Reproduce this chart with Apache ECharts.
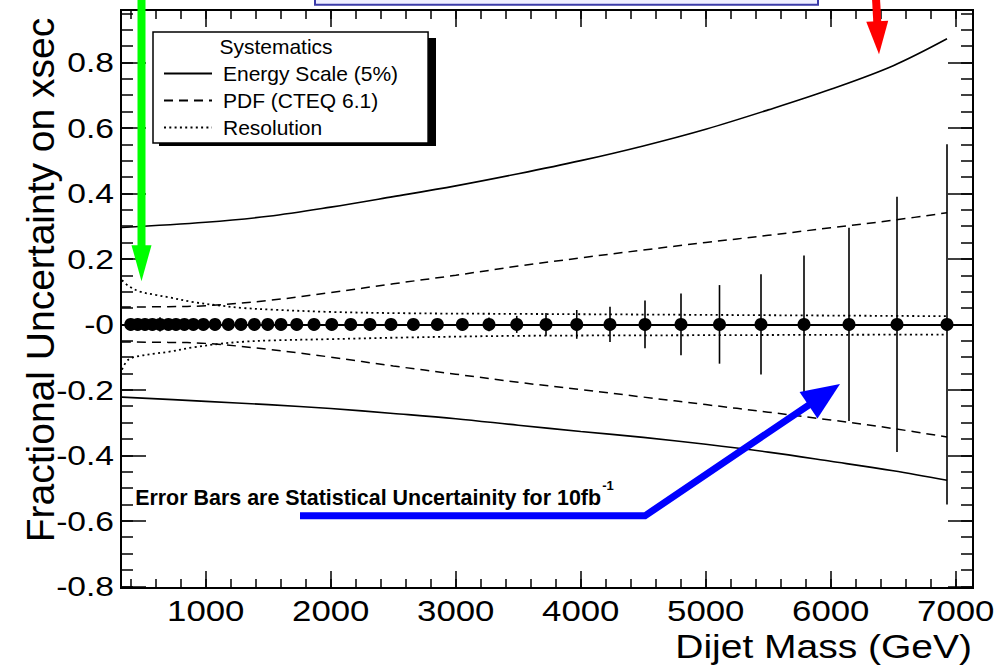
<!DOCTYPE html>
<html><head><meta charset="utf-8">
<script src="https://cdn.jsdelivr.net/npm/echarts@6/dist/echarts.min.js"></script>
<style>html,body{margin:0;padding:0;background:#fff}#c{width:1000px;height:665px}</style>
</head><body><div id="c"></div>
<script>
// ---------------- data ----------------
const xTickLabels = [1000, 2000, 3000, 4000, 5000, 6000, 7000];
const xMinorTicks = [400, 600, 800, 1000, 1200, 1400, 1600, 1800, 2000, 2200, 2400, 2600, 2800, 3000, 3200, 3400, 3600, 3800, 4000, 4200, 4400, 4600, 4800, 5000, 5200, 5400, 5600, 5800, 6000, 6200, 6400, 6600, 6800, 7000];
const yTickValues = [0.8, 0.6, 0.4, 0.2, 0, -0.2, -0.4, -0.6, -0.8];
const yTickLabels = ['0.8', '0.6', '0.4', '0.2', '-0', '-0.2', '-0.4', '-0.6', '-0.8'];
const yMinorTicks = [-0.8, -0.75, -0.7, -0.65, -0.6, -0.55, -0.5, -0.45, -0.4, -0.35, -0.3, -0.25, -0.2, -0.15, -0.1, -0.05, 0, 0.05, 0.1, 0.15, 0.2, 0.25, 0.3, 0.35, 0.4, 0.45, 0.5, 0.55, 0.6, 0.65, 0.7, 0.75, 0.8, 0.85, 0.9, 0.95];

const massPoints = [400, 456, 514, 573, 634, 701, 762, 829, 901, 981, 1074, 1181, 1282, 1389, 1496, 1602, 1728, 1866, 2008, 2160, 2314, 2482, 2661, 2853, 3053, 3266, 3488, 3722, 3968, 4234, 4514, 4802, 5110, 5442, 5786, 6146, 6530, 6930];
const pointValues = [0, 0, 0, 0, 0, 0, 0, 0, 0, 0, 0, 0, 0, 0, 0, 0, 0, 0, 0, 0, 0, 0, 0, 0, 0, 0, 0, 0, 0, 0, 0, 0, 0, 0, 0, 0, 0, 0];
const statErrors = [0.002, 0.002, 0.003, 0.003, 0.022, 0.003, 0.003, 0.003, 0.004, 0.004, 0.004, 0.005, 0.005, 0.006, 0.006, 0.007, 0.007, 0.008, 0.009, 0.010, 0.011, 0.012, 0.013, 0.015, 0.017, 0.021, 0.026, 0.035, 0.044, 0.054, 0.073, 0.094, 0.120, 0.153, 0.210, 0.295, 0.390, 0.550];

const esMass = [330, 1000, 1500, 2000, 2500, 3000, 3500, 4000, 4500, 5000, 5500, 6000, 6500, 6930];
const esUpper = [0.296, 0.312, 0.33, 0.358, 0.39, 0.423, 0.46, 0.5, 0.545, 0.596, 0.655, 0.718, 0.79, 0.872];
const esLower = [-0.222, -0.235, -0.245, -0.257, -0.272, -0.288, -0.308, -0.327, -0.345, -0.366, -0.39, -0.418, -0.447, -0.476];

const pdfMass = [330, 700, 1000, 1500, 2000, 2500, 3000, 3500, 4000, 4500, 5000, 5500, 6000, 6500, 6930];
const pdfUpper = [0.053, 0.054, 0.057, 0.073, 0.097, 0.124, 0.15, 0.178, 0.203, 0.227, 0.25, 0.272, 0.295, 0.318, 0.341];
const pdfLower = [-0.054, -0.055, -0.058, -0.076, -0.1, -0.127, -0.152, -0.177, -0.199, -0.222, -0.245, -0.268, -0.292, -0.318, -0.344];

const resMass = [330, 380, 475, 600, 700, 900, 1100, 1300, 1530, 2000, 2600, 3500, 5000, 6930];
const resUpper = [0.135, 0.118, 0.1, 0.09, 0.083, 0.068, 0.058, 0.05, 0.045, 0.038, 0.034, 0.032, 0.029, 0.025];
const resLower = [-0.138, -0.108, -0.096, -0.089, -0.084, -0.07, -0.06, -0.053, -0.049, -0.045, -0.04, -0.035, -0.033, -0.031];

const seriesNames = ['Energy Scale (5%)', 'PDF (CTEQ 6.1)', 'Resolution'];
const legendTitle = 'Systematics';
const xTitle = 'Dijet Mass (GeV)';
const yTitle = 'Fractional Uncertainty on xsec';
const noteText = 'Error Bars are Statistical Uncertainity for 10fb';
const noteSup = '-1';

// ---------------- layout / style ----------------
const X_MIN = 322, X_MAX = 7138, Y_MIN = -0.805, Y_MAX = 0.96;
const FONT = '"Liberation Sans", Arial, Helvetica, sans-serif';

// annotation anchors in data coordinates
const ANN = {
  green: { pts: [[486, 1.0], [486, 0.132]], head: 36, half: 10, width: 8, color: '#00ff00' },
  red: { pts: [[6362, 0.996], [6386, 0.825]], head: 33, half: 11, width: 8, color: '#ff0000' },
  blue: { pts: [[1754, -0.5845], [4514, -0.5845], [6074, -0.1817]], head: 38, half: 16, width: 7, color: '#0000ff' },
  box: { x1: 1874, x2: 5898, yTop: 1.1, yBottom: 0.976 },
  note: { x: 435, y: -0.5504 }
};

function xAxisDef(position, ticks, len) {
  return {
    type: 'value', gridIndex: 0, position: position, min: X_MIN, max: X_MAX,
    axisLine: { show: true, onZero: false, lineStyle: { color: '#000', width: 2 } },
    axisTick: { show: true, inside: true, length: len, customValues: ticks, lineStyle: { color: '#000', width: 1.5 } },
    axisLabel: { show: false }, splitLine: { show: false }, minorTick: { show: false }
  };
}
function yAxisDef(position, ticks, len) {
  return {
    type: 'value', gridIndex: 0, position: position, min: Y_MIN, max: Y_MAX,
    axisLine: { show: true, onZero: false, lineStyle: { color: '#000', width: 2 } },
    axisTick: { show: true, inside: true, length: len, customValues: ticks, lineStyle: { color: '#000', width: 1.5 } },
    axisLabel: { show: false }, splitLine: { show: false }, minorTick: { show: false }
  };
}
function pairs(xs, ys) { return xs.map((x, i) => [x, ys[i]]); }
function curve(name, xs, ys, type, width) {
  return {
    type: 'line', name: name, xAxisIndex: 0, yAxisIndex: 0, data: pairs(xs, ys),
    smooth: 0.35, symbol: 'none', showSymbol: false, clip: true, silent: true,
    lineStyle: { color: '#000', width: width, type: type },
    itemStyle: { color: '#000' }, z: 3
  };
}

const chart = echarts.init(document.getElementById('c'), null, { renderer: 'svg' });

const option = {
  animation: false,
  backgroundColor: '#fff',
  grid: { left: 121, right: 27, top: 10, bottom: 77, outerBoundsMode: 'none', containLabel: false },
  xAxis: [
    xAxisDef('bottom', xTickLabels, 17), xAxisDef('bottom', xMinorTicks, 9),
    xAxisDef('top', xTickLabels, 17), xAxisDef('top', xMinorTicks, 9)
  ],
  yAxis: [
    yAxisDef('left', yTickValues, 25), yAxisDef('left', yMinorTicks, 12),
    yAxisDef('right', yTickValues, 25), yAxisDef('right', yMinorTicks, 12)
  ],
  legend: {
    orient: 'vertical', left: 153, top: 32, z: 20,
    padding: [31, 30, 5, 10],
    itemWidth: 48, itemHeight: 20, itemGap: 6,
    backgroundColor: '#fff', borderColor: '#000', borderWidth: 1.5, borderRadius: 0,
    selectedMode: false,
    itemStyle: { opacity: 0, borderWidth: 0 },
    textStyle: { fontFamily: FONT, fontSize: 21, color: '#000', padding: [0, 0, 0, 6] },
    data: seriesNames
  },
  series: [
    curve(seriesNames[0], esMass, esUpper, 'solid', 1.6),
    curve(seriesNames[0], esMass, esLower, 'solid', 1.6),
    curve(seriesNames[1], pdfMass, pdfUpper, [9, 6], 1.5),
    curve(seriesNames[1], pdfMass, pdfLower, [9, 6], 1.5),
    curve(seriesNames[2], resMass, resUpper, [2, 3.3], 1.8),
    curve(seriesNames[2], resMass, resLower, [2, 3.3], 1.8),
    {
      type: 'custom', name: 'errors', xAxisIndex: 0, yAxisIndex: 0, silent: true, z: 4,
      data: massPoints.map((m, i) => [m, pointValues[i], statErrors[i]]),
      renderItem: function (params, api) {
        const m = api.value(0), v = api.value(1), e = api.value(2);
        const lo = api.coord([m, v - e]), hi = api.coord([m, v + e]);
        return { type: 'line', shape: { x1: lo[0], y1: lo[1], x2: hi[0], y2: hi[1] }, style: { stroke: '#000', lineWidth: 1.6 } };
      }
    },
    {
      type: 'scatter', name: 'points', xAxisIndex: 0, yAxisIndex: 0, silent: true, z: 5,
      data: pairs(massPoints, pointValues), symbol: 'circle', symbolSize: 13,
      itemStyle: { color: '#000', opacity: 1 },
      markLine: {
        silent: true, symbol: 'none', label: { show: false },
        lineStyle: { color: '#000', width: 2, type: 'solid', opacity: 1 },
        data: [{ yAxis: 0 }]
      }
    },
    {
      type: 'custom', name: 'xlabels', xAxisIndex: 0, yAxisIndex: 0, silent: true, z: 10,
      data: xTickLabels.map(v => [v, Y_MIN]),
      renderItem: function (params, api) {
        const p = api.coord([api.value(0), api.value(1)]);
        return { type: 'text', x: p[0], y: p[1] + 23, scaleX: 1.16,
          style: { text: String(xTickLabels[params.dataIndex]), font: '30px ' + FONT, fill: '#000', align: 'center', verticalAlign: 'middle' } };
      }
    },
    {
      type: 'custom', name: 'ylabels', xAxisIndex: 0, yAxisIndex: 0, silent: true, z: 10,
      data: yTickValues.map(v => [X_MIN, v]),
      renderItem: function (params, api) {
        const p = api.coord([api.value(0), api.value(1)]);
        return { type: 'text', x: p[0] - 7, y: p[1] + 0.5, scaleX: 1.2,
          style: { text: yTickLabels[params.dataIndex], font: '28px ' + FONT, fill: '#000', align: 'right', verticalAlign: 'middle' } };
      }
    }
  ]
};
chart.setOption(option);

// ---------------- annotations (from data coords) ----------------
function px(pt) { return chart.convertToPixel({ xAxisIndex: 0, yAxisIndex: 0 }, pt); }
function arrow(def) {
  const p = def.pts.map(px);
  const n = p.length;
  const tip = p[n - 1], prev = p[n - 2];
  const dx = tip[0] - prev[0], dy = tip[1] - prev[1];
  const L = Math.sqrt(dx * dx + dy * dy);
  const ux = dx / L, uy = dy / L;
  const base = [tip[0] - ux * def.head, tip[1] - uy * def.head];
  const shaftEnd = [tip[0] - ux * (def.head - 2), tip[1] - uy * (def.head - 2)];
  const shaftPts = p.slice(0, n - 1).concat([shaftEnd]);
  return [
    { type: 'polyline', shape: { points: shaftPts }, style: { stroke: def.color, lineWidth: def.width, fill: null, lineJoin: 'miter' }, z: 30 },
    { type: 'polygon', shape: { points: [tip, [base[0] - uy * def.half, base[1] + ux * def.half], [base[0] + uy * def.half, base[1] - ux * def.half]] }, style: { fill: def.color }, z: 30 }
  ];
}
const NOTE_SCALE = 0.975;
const mctx = document.createElement('canvas').getContext('2d');
mctx.font = 'bold 22px ' + FONT;
const noteW = mctx.measureText(noteText).width * NOTE_SCALE;

const b1 = px([ANN.box.x1, ANN.box.yTop]), b2 = px([ANN.box.x2, ANN.box.yBottom]);
const np = px([ANN.note.x, ANN.note.y]);

const graphics = [
  // legend shadow
  { type: 'rect', shape: { x: 159, y: 38, width: 277, height: 108 }, style: { fill: '#000' }, z: 15 },
  { type: 'text', x: 276, y: 46, style: { text: legendTitle, font: '21px ' + FONT, fill: '#000', align: 'center', verticalAlign: 'middle' }, z: 40 },
  { type: 'text', x: 40, y: 280, rotation: Math.PI / 2, style: { text: yTitle, font: '39px ' + FONT, fill: '#000', align: 'center', verticalAlign: 'middle' }, z: 40 },
  { type: 'text', x: 972, y: 647, scaleX: 1.2, style: { text: xTitle, font: '32.5px ' + FONT, fill: '#000', align: 'right', verticalAlign: 'middle' }, z: 40 },
  { type: 'rect', shape: { x: b1[0], y: b1[1], width: b2[0] - b1[0], height: b2[1] - b1[1] }, style: { fill: '#eeeeff', stroke: '#3a3aa8', lineWidth: 2 }, z: 30 },
  { type: 'text', x: np[0], y: np[1] - 7.6, scaleX: NOTE_SCALE, style: { text: noteText, font: 'bold 22px ' + FONT, fill: '#000', align: 'left', verticalAlign: 'middle' }, z: 40 },
  { type: 'text', x: np[0] + noteW + 1, y: np[1] - 19.5, style: { text: noteSup, font: 'bold 13px ' + FONT, fill: '#000', align: 'left', verticalAlign: 'middle' }, z: 40 }
].concat(arrow(ANN.green), arrow(ANN.red), arrow(ANN.blue));

chart.setOption({ graphic: { elements: graphics } });
</script>
</body></html>
